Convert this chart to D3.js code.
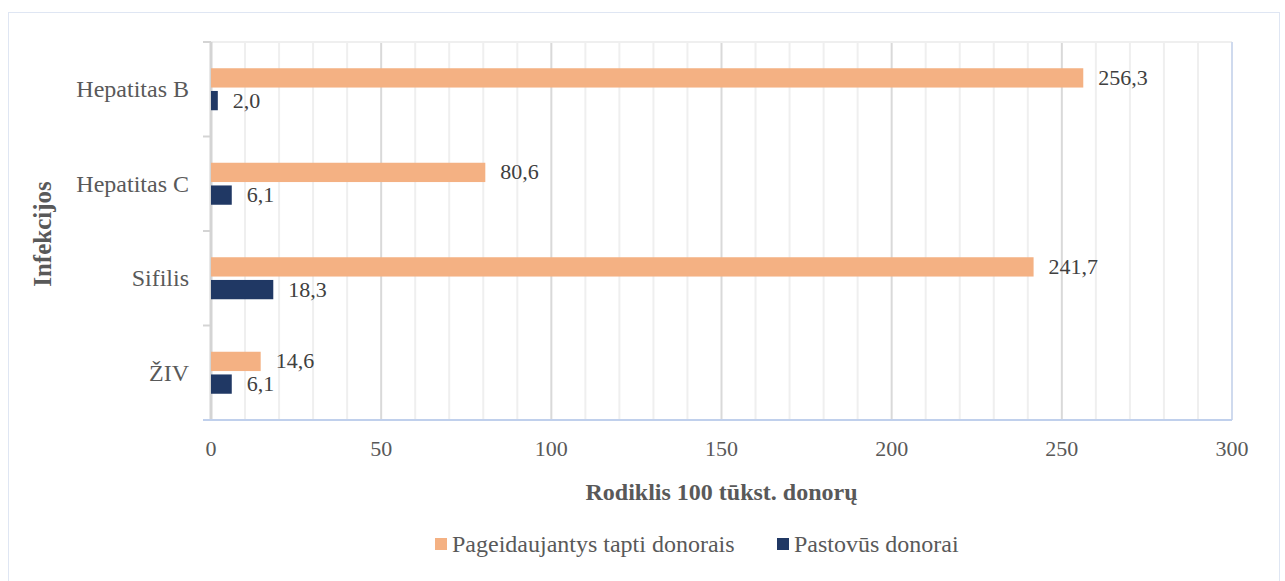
<!DOCTYPE html>
<html>
<head>
<meta charset="utf-8">
<script src="https://cdn.jsdelivr.net/npm/d3@7"></script>
<style>
  body { margin: 0; background: #fff; }
  svg text { font-family: 'Liberation Serif', 'Times New Roman', Times, 'DejaVu Serif', serif; }
</style>
</head>
<body>
<div class="chart"></div>
<script>
var categories = ['Hepatitas B', 'Hepatitas C', 'Sifilis', 'ŽIV'];
var seriesNames = ['Pageidaujantys tapti donorais', 'Pastovūs donorai'];
var wannabe = [256.3, 80.6, 241.7, 14.6];
var regular = [2.0, 6.1, 18.3, 6.1];
var xTicks = [0, 50, 100, 150, 200, 250, 300];
var colors = ['#F4B183', '#203864'];

var W = 1285, H = 581;
var margin = {top: 42, right: 53, bottom: 161, left: 211};
var width = W - margin.left - margin.right;
var height = H - margin.top - margin.bottom;

var svg = d3.select('.chart')
  .append('svg')
  .attr('width', W)
  .attr('height', H);

// outer chart border
svg.append('rect')
  .attr('x', 8.5).attr('y', 12.5)
  .attr('width', 1271).attr('height', 600)
  .style('fill', 'none')
  .style('stroke', '#dfe6f3');

let g = svg.append('g')
  .attr('transform', `translate(${margin.left}, ${margin.top})`);

let xScale = d3.scaleLinear().domain([0, 300]).range([0, width]);
let yScale = d3.scaleBand().domain(categories).range([0, height]);
let inner = d3.scaleBand().domain(seriesNames).range([-21, 21]).paddingInner(0.15);

// gridlines
g.selectAll('.grid')
  .data(d3.range(10, 300, 10))
  .enter()
  .append('line')
  .attr('x1', d => xScale(d)).attr('x2', d => xScale(d))
  .attr('y1', 0).attr('y2', height)
  .style('stroke', d => d % 50 === 0 ? '#d9d9d9' : '#efefef')
  .style('stroke-width', 2);

// top border
g.append('line')
  .attr('x1', 0).attr('x2', width).attr('y1', 0).attr('y2', 0)
  .style('stroke', '#efefef').style('stroke-width', 2);
// right border
g.append('line')
  .attr('x1', width).attr('x2', width).attr('y1', 0).attr('y2', height)
  .style('stroke', '#cfdaee').style('stroke-width', 2);

// left axis
g.append('line')
  .attr('x1', 0).attr('x2', 0).attr('y1', 0).attr('y2', height)
  .style('stroke', '#d4d4d4').style('stroke-width', 3);
g.selectAll('.ytick')
  .data(d3.range(categories.length + 1))
  .enter()
  .append('line')
  .attr('x1', -8).attr('x2', 0)
  .attr('y1', d => d * yScale.step()).attr('y2', d => d * yScale.step())
  .style('stroke', '#d4d4d4').style('stroke-width', 2);

// bottom axis line
g.append('line')
  .attr('x1', -8).attr('x2', width).attr('y1', height).attr('y2', height)
  .style('stroke', '#c0d0ec').style('stroke-width', 2);

// x tick labels
g.selectAll('.xlab')
  .data(xTicks)
  .enter()
  .append('text')
  .attr('x', d => xScale(d))
  .attr('y', height + 36)
  .style('text-anchor', 'middle')
  .style('font-size', '22px')
  .style('fill', '#595959')
  .text(d => d);

// category labels
g.selectAll('.ylab')
  .data(categories)
  .enter()
  .append('text')
  .attr('x', -22)
  .attr('y', d => yScale(d) + yScale.bandwidth() / 2 + 8)
  .style('text-anchor', 'end')
  .style('font-size', '24px')
  .style('fill', '#595959')
  .text(d => d);

// bars
let rows = categories.map((c, i) => [
  {cat: c, s: seriesNames[0], v: wannabe[i], color: colors[0]},
  {cat: c, s: seriesNames[1], v: regular[i], color: colors[1]}
]).flat();

g.selectAll('.bar')
  .data(rows)
  .enter()
  .append('rect')
  .attr('x', 0)
  .attr('y', d => yScale(d.cat) + yScale.bandwidth() / 2 + inner(d.s))
  .attr('width', d => xScale(d.v))
  .attr('height', inner.bandwidth())
  .style('fill', d => d.color);

g.selectAll('.val')
  .data(rows)
  .enter()
  .append('text')
  .attr('x', d => xScale(d.v) + 15)
  .attr('y', d => yScale(d.cat) + yScale.bandwidth() / 2 + inner(d.s) + inner.bandwidth() / 2 + 7)
  .style('font-size', '22px')
  .style('fill', '#404040')
  .text(d => d3.format('.1f')(d.v).replace('.', ','));

// axis titles
svg.append('text')
  .attr('x', margin.left + width / 2)
  .attr('y', 500)
  .style('text-anchor', 'middle')
  .style('font-size', '24px')
  .style('font-weight', 'bold')
  .style('fill', '#595959')
  .text('Rodiklis 100 tūkst. donorų');

svg.append('text')
  .attr('transform', `translate(51, ${margin.top + height / 2 + 3}) rotate(-90)`)
  .style('text-anchor', 'middle')
  .style('font-size', '25px')
  .style('font-weight', 'bold')
  .style('fill', '#595959')
  .text('Infekcijos');

// legend
let legendX = [435, 777];
let legend = svg.selectAll('.legend')
  .data(seriesNames)
  .enter()
  .append('g')
  .attr('transform', (d, i) => `translate(${legendX[i]}, 538)`);
legend.append('rect')
  .attr('width', 12).attr('height', 12)
  .style('fill', (d, i) => colors[i]);
legend.append('text')
  .attr('x', 17).attr('y', 14)
  .style('font-size', '24px')
  .style('fill', '#595959')
  .text(d => d);
</script>
</body>
</html>
